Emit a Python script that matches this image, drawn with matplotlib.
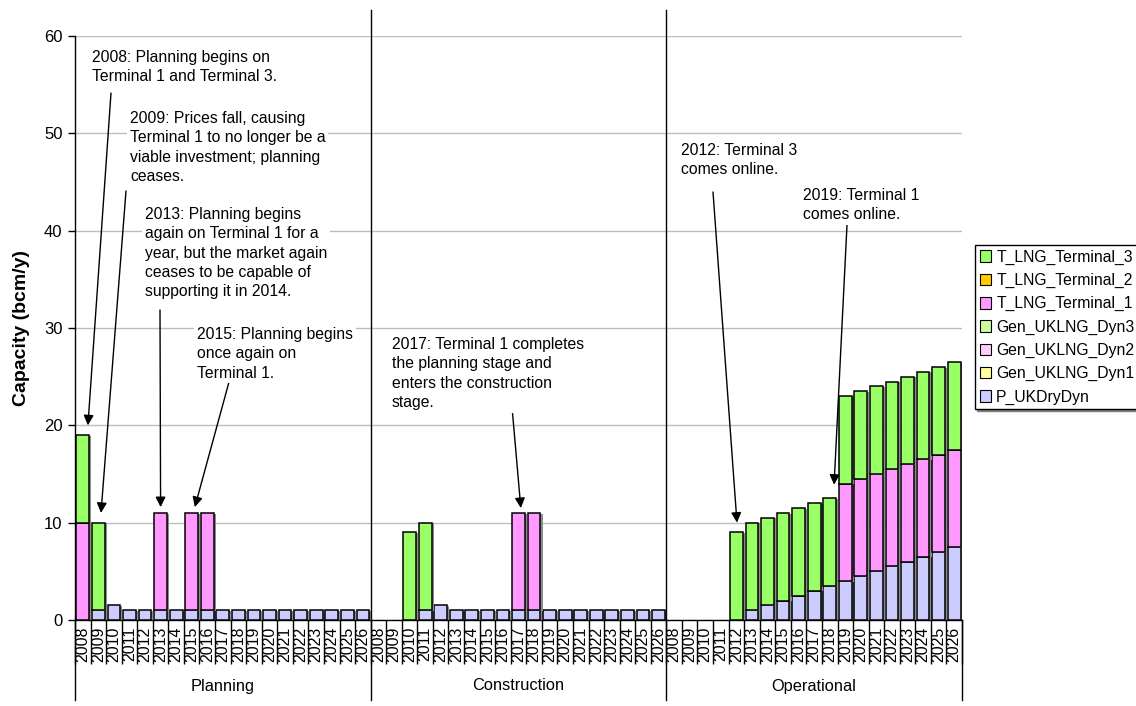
import matplotlib
matplotlib.use("Agg")
import matplotlib.pyplot as plt
import matplotlib.patheffects as pe
from matplotlib.patches import Patch
from matplotlib.transforms import blended_transform_factory
import numpy as np

plt.rcParams['font.family'] = ['Liberation Sans', 'DejaVu Sans']

# ---- data -------------------------------------------------------------
years = [str(y) for y in range(2008, 2027)]
stages = ["Planning", "Construction", "Operational"]

# capacity by stage (bcm/y), one value per year 2008..2026
p_ukdry_planning = [0, 1, 1.5, 1, 1, 1, 1, 1, 1, 1, 1, 1, 1, 1, 1, 1, 1, 1, 1]
p_ukdry_construction = [0, 0, 0, 1, 1.5, 1, 1, 1, 1, 1, 1, 1, 1, 1, 1, 1, 1, 1, 1]
p_ukdry_operational = [0, 0, 0, 0, 0, 1, 1.5, 2, 2.5, 3, 3.5, 4, 4.5, 5, 5.5, 6, 6.5, 7, 7.5]

term1_planning = [10, 0, 0, 0, 0, 10, 0, 10, 10, 0, 0, 0, 0, 0, 0, 0, 0, 0, 0]
term1_construction = [0, 0, 0, 0, 0, 0, 0, 0, 0, 10, 10, 0, 0, 0, 0, 0, 0, 0, 0]
term1_operational = [0, 0, 0, 0, 0, 0, 0, 0, 0, 0, 0, 10, 10, 10, 10, 10, 10, 10, 10]

term3_planning = [9, 9, 0, 0, 0, 0, 0, 0, 0, 0, 0, 0, 0, 0, 0, 0, 0, 0, 0]
term3_construction = [0, 0, 9, 9, 0, 0, 0, 0, 0, 0, 0, 0, 0, 0, 0, 0, 0, 0, 0]
term3_operational = [0, 0, 0, 0, 9, 9, 9, 9, 9, 9, 9, 9, 9, 9, 9, 9, 9, 9, 9]

zeros = [0] * len(years)

series_names = ["P_UKDryDyn", "Gen_UKLNG_Dyn1", "Gen_UKLNG_Dyn2", "Gen_UKLNG_Dyn3",
                "T_LNG_Terminal_1", "T_LNG_Terminal_2", "T_LNG_Terminal_3"]
series_colors = ["#CCCCFF", "#FFFF99", "#FFCCFF", "#CCFF99",
                 "#FF99FF", "#FFCC00", "#99FF66"]

series_values = {
    "P_UKDryDyn": p_ukdry_planning + p_ukdry_construction + p_ukdry_operational,
    "Gen_UKLNG_Dyn1": zeros * 3,
    "Gen_UKLNG_Dyn2": zeros * 3,
    "Gen_UKLNG_Dyn3": zeros * 3,
    "T_LNG_Terminal_1": term1_planning + term1_construction + term1_operational,
    "T_LNG_Terminal_2": zeros * 3,
    "T_LNG_Terminal_3": term3_planning + term3_construction + term3_operational,
}

# ---- figure -----------------------------------------------------------
W, H = 1136, 706
fig = plt.figure(figsize=(W / 100, H / 100), dpi=100)
ax = fig.add_axes([75 / W, 1 - 620 / H, (962 - 75) / W, (620 - 36) / H])

n_years = len(years)
n = n_years * len(stages)
x = np.arange(n)

bar_fx = [pe.SimplePatchShadow(offset=(1.5, -0.5), shadow_rgbFace="#8C8C8C", alpha=1.0),
          pe.Normal()]
bottom = np.zeros(n)
for name, color in zip(series_names, series_colors):
    vals = np.array(series_values[name], dtype=float)
    mask = vals > 0
    bars = ax.bar(x[mask], vals[mask], bottom=bottom[mask], width=0.82, color=color,
                  edgecolor="black", linewidth=1.1, zorder=3)
    for b in bars:
        b.set_path_effects(bar_fx)
    bottom += vals
totals = bottom

ax.set_xlim(-0.5, n - 0.5)
ax.set_ylim(0, 60)
ax.set_yticks(np.arange(0, 61, 10))
ax.tick_params(axis="y", labelsize=12, length=5, width=1, direction="out", pad=4)
ax.yaxis.grid(True, color="#BDBDBD", linewidth=1, zorder=0)
ax.set_axisbelow(True)
for s in ("top", "right"):
    ax.spines[s].set_visible(False)
ax.spines["left"].set_linewidth(1)
ax.spines["bottom"].set_linewidth(1)

ax.set_ylabel("Capacity (bcm/y)", fontsize=14, fontweight="bold", labelpad=10)

# year labels under every bar, separators between categories
ax.set_xticks(x)
ax.set_xticklabels(years * len(stages), rotation=90, fontsize=11.5)
ax.tick_params(axis="x", which="major", length=0, pad=5)
ax.set_xticks(np.arange(-0.5, n, 1.0), minor=True)
ax.tick_params(axis="x", which="minor", length=32, width=1, color="black")

# stage group lines and labels
tr = blended_transform_factory(ax.transData, fig.transFigure)
for k in range(len(stages) + 1):
    xb = k * n_years - 0.5
    if 0 < k < len(stages):
        y_top = 1 - 10 / H
    else:
        y_top = 1 - 620 / H
    ax.plot([xb, xb], [1 - 700 / H, y_top], transform=tr, color="black",
            linewidth=1, clip_on=False, zorder=5)
for k, stage in enumerate(stages):
    ax.text(k * n_years + (n_years - 1) / 2, 1 - 686 / H, stage, transform=tr,
            ha="center", va="center", fontsize=11.8)

# ---- annotations ------------------------------------------------------
notes = [
    ("2008: Planning begins on\nTerminal 1 and Terminal 3.", (92, 50), (111, 93), 0, (0.33, 1.0)),
    ("2009: Prices fall, causing\nTerminal 1 to no longer be a\nviable investment; planning\nceases.",
     (130, 111), (126, 191), 1, (0.17, 1.0)),
    ("2013: Planning begins\nagain on Terminal 1 for a\nyear, but the market again\nceases to be capable of\nsupporting it in 2014.",
     (145, 207), (160, 310), 5, (0.0, 0.6)),
    ("2015: Planning begins\nonce again on\nTerminal 1.", (197, 327), (229, 382), 7, (0.2, 0.6)),
    ("2017: Terminal 1 completes\nthe planning stage and\nenters the construction\nstage.",
     (392, 337), (512, 407), 28, (0.15, 0.5)),
    ("2012: Terminal 3\ncomes online.", (681, 143), (713, 192), 42, (0.04, 1.0)),
    ("2019: Terminal 1\ncomes online.", (803, 188), (847, 225), 49, (-0.72, -9.1)),
]
for text, (tx, ty), (ax0, ay0), idx, (dx, dy) in notes:
    fig.text(tx / W, 1 - ty / H, text, ha="left", va="top", fontsize=11.3,
             linespacing=1.36, zorder=6,
             bbox=dict(facecolor="white", edgecolor="none", pad=2))
    ax.annotate("", xy=(idx + dx, totals[idx] + dy), xycoords="data",
                xytext=(ax0 / W, 1 - ay0 / H), textcoords="figure fraction",
                arrowprops=dict(arrowstyle="-|>", color="black", lw=1.0,
                                mutation_scale=15, shrinkA=0, shrinkB=0),
                zorder=7, annotation_clip=False)

# ---- legend -----------------------------------------------------------
handles = [Patch(facecolor=c, edgecolor="black", linewidth=0.8, label=nm)
           for nm, c in zip(series_names, series_colors)][::-1]
leg = fig.legend(handles=handles, loc="upper left",
                 bbox_to_anchor=(975 / W, 1 - 245 / H), fontsize=11.3,
                 frameon=True, fancybox=False, edgecolor="black",
                 handlelength=0.75, handleheight=0.75, handletextpad=0.3,
                 labelspacing=0.52, borderpad=0.3, borderaxespad=0,
                 shadow={"ox": 1.5, "oy": -1.5, "color": "#808080", "alpha": 1.0})
leg.get_frame().set_linewidth(1)

fig.savefig("out.png", dpi=100)
